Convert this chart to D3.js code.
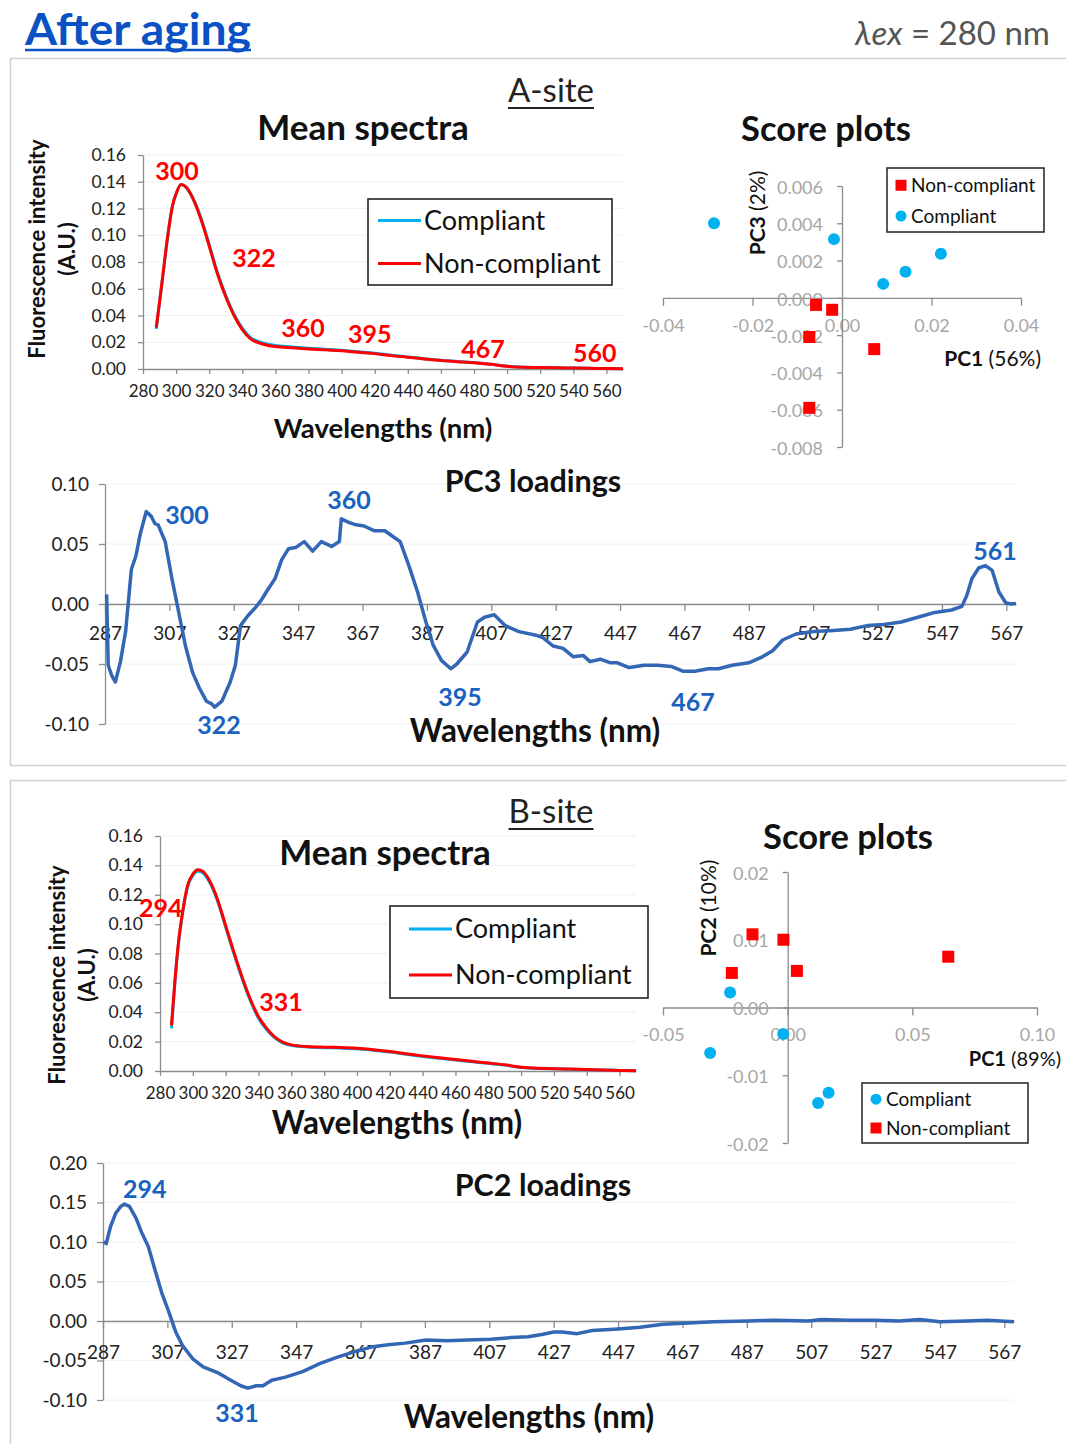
<!DOCTYPE html>
<html><head><meta charset="utf-8">
<script src="https://cdn.jsdelivr.net/npm/d3@7"></script>
<style>body{margin:0;background:#fff} text{font-family:Lato,'Open Sans',sans-serif}</style>
</head><body><svg id="c" width="1066" height="1444"></svg>
<script>
// ---------------- DATA ----------------
const meanTicks = [280,300,320,340,360,380,400,420,440,460,480,500,520,540,560];
const meanYTicks = [0,0.02,0.04,0.06,0.08,0.10,0.12,0.14,0.16];
const loadTicks = [287,307,327,347,367,387,407,427,447,467,487,507,527,547,567];

// A-site mean spectra
const aWl = [288,290,292,295,298,300,303,306,310,315,320,325,330,335,340,345,350,355,360,370,380,390,400,410,420,430,440,450,460,470,480,490,500,510,520,530,540,550,560,570];
const aNonCompliant = [0.031,0.050,0.070,0.100,0.123,0.131,0.138,0.136,0.128,0.112,0.092,0.071,0.054,0.040,0.0295,0.0225,0.0195,0.0178,0.0168,0.0158,0.0150,0.0143,0.0136,0.0125,0.0115,0.0100,0.0088,0.0075,0.0063,0.0055,0.0047,0.0035,0.0020,0.0013,0.0011,0.0009,0.0007,0.0005,0.0003,0.0002];
const aCompliant = [0.030,0.050,0.070,0.100,0.123,0.131,0.138,0.136,0.128,0.113,0.093,0.072,0.055,0.041,0.0305,0.0235,0.0205,0.0188,0.0176,0.0165,0.0156,0.0148,0.0140,0.0129,0.0118,0.0103,0.0090,0.0077,0.0065,0.0056,0.0048,0.0036,0.0021,0.0014,0.0011,0.0009,0.0007,0.0005,0.0003,0.0002];
const aMeanLabels = ["300","322","360","395","467","560"];
const aMeanLabelX = [300.5,347,376.7,417,485.4,553];
const aMeanLabelY = [0.1413,0.0763,0.0239,0.0194,0.0082,0.0052];

// A-site score plot (PC1 vs PC3)
const aScoreXTicks = [-0.04,-0.02,0,0.02,0.04];
const aScoreYTicks = [-0.008,-0.006,-0.004,-0.002,0,0.002,0.004,0.006];
const aCompPC1 = [-0.0286,-0.0018,0.0092,0.0142,0.0221];
const aCompPC3 = [0.0040,0.00315,0.00075,0.0014,0.00236];
const aNonPC1 = [-0.0058,-0.0022,-0.0073,0.0072,-0.0073];
const aNonPC3 = [-0.00038,-0.00064,-0.0021,-0.00275,-0.0059];

// A-site PC3 loadings
const pc3Wl = [287.5,288,289,290.2,291.8,293.4,295.2,296.6,298,299.8,301.4,302.5,303.5,305.7,307.8,309.9,312,314.2,316.3,318.5,320,321.1,323.3,325.9,327.5,329.1,331.3,333.4,335.5,337.1,339.8,341.9,344,346.2,348.9,351.5,354.2,357.4,359.8,360.4,362.7,365,367.5,370.7,373.9,377.1,378.7,381.4,384.1,386.7,388.9,391.5,394.4,396.3,399.5,402.7,404.9,407.9,411.3,415.6,420.9,423,426.2,429.3,432.5,435.6,437.7,440.9,444,446.2,449.8,454.5,458.7,462.9,466.5,470.2,474.4,477.6,481.8,487,491.2,494.4,497.5,501.7,507,513.3,518.5,523.8,529,534.3,539.5,544.8,550,553.2,554.7,556.3,558.4,560.5,562.6,564.7,566.8,568.4,570];
const pc3Val = [0.008,-0.051,-0.059,-0.065,-0.048,-0.023,0.029,0.040,0.059,0.077,0.073,0.067,0.066,0.052,0.021,-0.007,-0.035,-0.057,-0.070,-0.081,-0.083,-0.086,-0.081,-0.065,-0.051,-0.018,-0.010,-0.004,0.003,0.010,0.021,0.037,0.046,0.047,0.052,0.044,0.052,0.048,0.052,0.071,0.068,0.066,0.065,0.061,0.061,0.055,0.052,0.032,0.010,-0.015,-0.034,-0.047,-0.054,-0.050,-0.040,-0.015,-0.011,-0.009,-0.018,-0.023,-0.026,-0.028,-0.035,-0.037,-0.044,-0.043,-0.048,-0.046,-0.049,-0.049,-0.053,-0.051,-0.051,-0.052,-0.056,-0.056,-0.054,-0.054,-0.051,-0.049,-0.044,-0.039,-0.030,-0.025,-0.023,-0.022,-0.021,-0.018,-0.017,-0.015,-0.011,-0.007,-0.005,-0.002,0.007,0.021,0.030,0.032,0.028,0.010,0.001,0.000,0.0005];
const pc3YTicks = [-0.10,-0.05,0,0.05,0.10];
const pc3Labels = ["300","360","561","322","395","467"];
const pc3LabelX = [312.5,362.8,563.5,322.4,397.3,469.7];
const pc3LabelY = [0.0667,0.0792,0.0367,-0.1083,-0.0850,-0.0892];

// B-site mean spectra
const bWl = [287,289,291,294,297,300,303,306,310,315,320,325,330,335,340,345,350,355,360,370,380,390,400,410,420,430,440,450,460,470,480,490,500,510,520,530,540,550,560,570];
const bNonCompliant = [0.031,0.060,0.085,0.110,0.127,0.134,0.137,0.136,0.130,0.117,0.099,0.081,0.064,0.049,0.037,0.029,0.023,0.0195,0.0178,0.0166,0.0162,0.0160,0.0155,0.0145,0.0133,0.0118,0.0103,0.0090,0.0078,0.0066,0.0054,0.0042,0.0025,0.0018,0.0016,0.0013,0.0010,0.0007,0.0004,0.0002];
const bCompliant = [0.029,0.059,0.084,0.109,0.126,0.133,0.136,0.135,0.129,0.116,0.098,0.080,0.063,0.048,0.036,0.028,0.0225,0.019,0.0175,0.0163,0.0159,0.0156,0.0151,0.0141,0.0129,0.0114,0.0099,0.0087,0.0075,0.0063,0.0052,0.0040,0.0024,0.0017,0.0015,0.0012,0.0009,0.0006,0.0004,0.0002];
const bMeanLabels = ["294","331"];
const bMeanLabelX = [280.5,353.7];
const bMeanLabelY = [0.1049,0.0409];

// B-site score plot (PC1 vs PC2)
const bScoreXTicks = [-0.05,0,0.05,0.10];
const bScoreYTicks = [-0.02,-0.01,0,0.01,0.02];
const bCompPC1 = [-0.0231,-0.0311,-0.0018,0.0122,0.0164];
const bCompPC2 = [0.0022,-0.0067,-0.0039,-0.0141,-0.0126];
const bNonPC1 = [-0.0141,-0.0017,-0.0224,0.0037,0.0644];
const bNonPC2 = [0.0108,0.0100,0.0051,0.0054,0.0075];

// B-site PC2 loadings
const pc2Wl = [287.2,288,289.3,290.9,292.5,293.6,295.2,297.3,298.9,301.1,303.2,305.3,307.5,309.6,311.7,314.9,318.1,322.4,326.7,329.8,332,334.6,336.7,339.4,343.7,349,354.3,359.6,365,370.3,375.6,380.9,387.3,393.7,400.1,407.5,413.9,419.1,423.3,427,429.6,434.3,439,447,453.8,461,467.3,476.8,487.2,495.6,506.1,510.3,518.7,527,534.4,540.7,547,555.4,561.7,570];
const pc2Val = [0.100,0.098,0.119,0.136,0.145,0.148,0.145,0.130,0.113,0.094,0.064,0.035,0.011,-0.014,-0.031,-0.048,-0.058,-0.065,-0.075,-0.082,-0.085,-0.082,-0.082,-0.075,-0.071,-0.064,-0.054,-0.046,-0.039,-0.033,-0.030,-0.028,-0.024,-0.025,-0.024,-0.023,-0.021,-0.020,-0.017,-0.014,-0.014,-0.016,-0.012,-0.010,-0.008,-0.004,-0.003,-0.001,0.000,0.001,0.000,0.002,0.001,0.001,0.000,0.002,-0.001,0.000,0.001,-0.001];
const pc2YTicks = [-0.10,-0.05,0,0.05,0.10,0.15,0.20];
const pc2Labels = ["294","331"];
const pc2LabelX = [300.0,328.6];
const pc2LabelY = [0.1557,-0.1278];

// ---------------- DRAWING ----------------
const svg = d3.select('#c');
const BLUE_PT = '#00b0f0', RED = '#ff0000', LOAD = '#3366b5', LBL_BLUE = '#1a62c0', AX = '#8c8c8c';
const fmt = p => d => d3.format(p)(d).replace('\u2212', '-');

function text(x, y, s, o = {}) {
  const t = svg.append('text').attr('x', x).attr('y', y)
    .attr('font-size', o.size || 16).attr('font-weight', o.bold ? 700 : 400)
    .attr('fill', o.fill || '#111').attr('text-anchor', o.anchor || 'start');
  if (o.italic) t.attr('font-style', 'italic');
  if (o.rotate) t.attr('transform', `rotate(-90,${x},${y})`);
  t.text(s);
  return t;
}
function styleAxis(g, color, size) {
  g.select('.domain').attr('stroke', AX).attr('stroke-width', 1.3);
  g.selectAll('.tick line').attr('stroke', AX).attr('stroke-width', 1.3);
  g.selectAll('.tick text').attr('fill', color).attr('font-size', size)
    .attr('font-family', "Lato,'Open Sans',sans-serif");
}

// header
text(25, 45, 'After aging', {size: 44, bold: true, fill: '#0a52c4'})
  .attr('textLength', 226).attr('lengthAdjust', 'spacingAndGlyphs');
svg.append('line').attr('x1', 25).attr('x2', 251).attr('y1', 50).attr('y2', 50).attr('stroke', '#0a52c4').attr('stroke-width', 2.5);
const lam = svg.append('text').attr('x', 1050).attr('y', 45).attr('text-anchor', 'end').attr('font-size', 33).attr('fill', '#555');
lam.append('tspan').attr('font-style', 'italic').text('λex');
lam.append('tspan').text(' = 280 nm');

// panel frames
svg.append('rect').attr('x', 10.5).attr('y', 58.5).attr('width', 1070).attr('height', 707).attr('fill', 'none').attr('stroke', '#cfcfcf').attr('stroke-width', 1.5);
svg.append('rect').attr('x', 10.5).attr('y', 780.5).attr('width', 1070).attr('height', 700).attr('fill', 'none').attr('stroke', '#cfcfcf').attr('stroke-width', 1.5);

function siteTitle(cx, y, s) {
  const t = text(cx, y, s, {size: 33, anchor: 'middle', fill: '#222'});
  const w = t.node().getComputedTextLength();
  svg.append('line').attr('x1', cx - w / 2).attr('x2', cx + w / 2).attr('y1', y + 6).attr('y2', y + 6).attr('stroke', '#222').attr('stroke-width', 2);
}
siteTitle(551, 102, 'A-site');
siteTitle(551, 823, 'B-site');

// ---- mean spectra ----
function meanChart(cfg) {
  const x = d3.scaleLinear().domain([280, 570]).range([cfg.x0, cfg.x1]);
  const y = d3.scaleLinear().domain([0, 0.16]).range([cfg.y0, cfg.y1]);
  svg.append('g').selectAll('line').data(meanYTicks.slice(1)).join('line')
    .attr('x1', cfg.x0).attr('x2', cfg.x1).attr('y1', d => y(d)).attr('y2', d => y(d))
    .attr('stroke', '#f0f0f0').attr('stroke-width', 1);
  const gx = svg.append('g').attr('transform', `translate(0,${cfg.y0})`)
    .call(d3.axisBottom(x).tickValues(meanTicks).tickSize(5).tickPadding(11).tickSizeOuter(0).tickFormat(d3.format('d')));
  styleAxis(gx, '#222', 17);
  const gy = svg.append('g').attr('transform', `translate(${cfg.x0},0)`)
    .call(d3.axisLeft(y).tickValues(meanYTicks).tickSize(5).tickPadding(12).tickSizeOuter(0).tickFormat(fmt('.2f')));
  styleAxis(gy, '#222', 17.5);
  const line = d3.line().x(d => x(d[0])).y(d => y(d[1])).curve(d3.curveMonotoneX);
  svg.append('path').datum(cfg.wl.map((w, i) => [w, cfg.comp[i]])).attr('d', line)
    .attr('fill', 'none').attr('stroke', BLUE_PT).attr('stroke-width', 3);
  svg.append('path').datum(cfg.wl.map((w, i) => [w, cfg.non[i]])).attr('d', line)
    .attr('fill', 'none').attr('stroke', RED).attr('stroke-width', 3);
  cfg.labels.forEach((s, i) => text(x(cfg.lx[i]), y(cfg.ly[i]), s, {size: 25, bold: true, fill: RED, anchor: 'middle'}));
  // legend
  const L = cfg.legend;
  svg.append('rect').attr('x', L.x).attr('y', L.y).attr('width', L.w).attr('height', L.h).attr('fill', '#fff').attr('stroke', '#222').attr('stroke-width', 1.6);
  [['Compliant', BLUE_PT], ['Non-compliant', RED]].forEach((e, i) => {
    const yy = L.y + L.h * (i === 0 ? 0.25 : 0.75);
    svg.append('line').attr('x1', L.x + L.pad).attr('x2', L.x + L.pad + 43).attr('y1', yy).attr('y2', yy).attr('stroke', e[1]).attr('stroke-width', 3);
    text(L.x + L.pad + 46, yy + 9, e[0], {size: L.fs, fill: '#111'});
  });
  // titles
  text(cfg.title[0], cfg.title[1], 'Mean spectra', {size: 35, bold: true, anchor: 'middle'});
  text(cfg.xt[0], cfg.xt[1], 'Wavelengths (nm)', {size: cfg.xt[2], bold: true, anchor: 'middle'});
  text(cfg.yt[0], cfg.yt[2], 'Fluorescence intensity', {size: 22, bold: true, anchor: 'middle', rotate: true});
  text(cfg.yt[1], cfg.yt[2], '(A.U.)', {size: 22, bold: true, anchor: 'middle', rotate: true});
}
meanChart({x0: 143, x1: 623, y0: 369, y1: 155, wl: aWl, comp: aCompliant, non: aNonCompliant,
  labels: aMeanLabels, lx: aMeanLabelX, ly: aMeanLabelY,
  legend: {x: 368, y: 199, w: 244, h: 86, pad: 10, fs: 27},
  title: [363, 140], xt: [383, 438, 27.5], yt: [45, 75, 249]});
meanChart({x0: 160, x1: 636, y0: 1071, y1: 836, wl: bWl, comp: bCompliant, non: bNonCompliant,
  labels: bMeanLabels, lx: bMeanLabelX, ly: bMeanLabelY,
  legend: {x: 390, y: 906, w: 258, h: 92, pad: 19, fs: 27},
  title: [385, 865], xt: [397, 1134, 31.5], yt: [65, 95, 975]});

// ---- score plots ----
function scorePlot(cfg) {
  const x = d3.scaleLinear().domain(cfg.xd).range([cfg.x0, cfg.x1]);
  const y = d3.scaleLinear().domain(cfg.yd).range([cfg.y0, cfg.y1]);
  const gx = svg.append('g').attr('transform', `translate(0,${y(0)})`)
    .call(d3.axisBottom(x).tickValues(cfg.xt).tickSize(8).tickPadding(13).tickSizeOuter(0).tickFormat(cfg.xf));
  styleAxis(gx, '#a6a6a6', 18);
  const gy = svg.append('g').attr('transform', `translate(${x(0)},0)`)
    .call(d3.axisLeft(y).tickValues(cfg.yt).tickSize(5).tickPadding(14).tickSizeOuter(0).tickFormat(cfg.yf));
  styleAxis(gy, '#a6a6a6', 18);
  gy.selectAll('.tick text').attr('dy', '0.4em');
  svg.append('g').selectAll('circle').data(cfg.cx.map((v, i) => [v, cfg.cy[i]])).join('circle')
    .attr('cx', d => x(d[0])).attr('cy', d => y(d[1])).attr('r', 6).attr('fill', BLUE_PT);
  svg.append('g').selectAll('rect').data(cfg.nx.map((v, i) => [v, cfg.ny[i]])).join('rect')
    .attr('x', d => x(d[0]) - 6).attr('y', d => y(d[1]) - 6).attr('width', 12).attr('height', 12).attr('fill', RED);
  const L = cfg.legend;
  svg.append('rect').attr('x', L.x).attr('y', L.y).attr('width', L.w).attr('height', L.h).attr('fill', '#fff').attr('stroke', '#222').attr('stroke-width', 1.5);
  L.order.forEach((k, i) => {
    const yy = L.y + L.h * (i === 0 ? 0.27 : 0.75);
    const cxp = L.x + 14;
    if (k === 'Compliant') svg.append('circle').attr('cx', cxp).attr('cy', yy).attr('r', 5.5).attr('fill', BLUE_PT);
    else svg.append('rect').attr('x', cxp - 5.5).attr('y', yy - 5.5).attr('width', 11).attr('height', 11).attr('fill', RED);
    text(cxp + 10, yy + 6.5, k, {size: 19, fill: '#111'});
  });
  text(cfg.title[0], cfg.title[1], 'Score plots', {size: 34.5, bold: true, anchor: 'middle'});
  const xl = svg.append('text').attr('x', cfg.xl[0]).attr('y', cfg.xl[1]).attr('text-anchor', 'end').attr('font-size', cfg.xl[3]).attr('fill', '#111');
  xl.append('tspan').attr('font-weight', 700).text('PC1');
  xl.append('tspan').text(' ' + cfg.xl[2]);
  const yl = svg.append('text').attr('x', cfg.yl[0]).attr('y', cfg.yl[1]).attr('text-anchor', 'middle').attr('font-size', 21).attr('fill', '#111')
    .attr('transform', `rotate(-90,${cfg.yl[0]},${cfg.yl[1]})`);
  yl.append('tspan').attr('font-weight', 700).text(cfg.yl[2]);
  yl.append('tspan').text(' ' + cfg.yl[3]);
}
scorePlot({xd: [-0.04, 0.04], x0: 663, x1: 1021, yd: [-0.008, 0.006], y0: 447, y1: 186,
  xt: aScoreXTicks, yt: aScoreYTicks, xf: fmt('.2f'), yf: fmt('.3f'),
  cx: aCompPC1, cy: aCompPC3, nx: aNonPC1, ny: aNonPC3,
  legend: {x: 887, y: 168, w: 157, h: 64, order: ['Non-compliant', 'Compliant']},
  title: [826, 141], xl: [1041, 366, '(56%)', 21], yl: [765, 213, 'PC3', '(2%)']});
scorePlot({xd: [-0.05, 0.10], x0: 663, x1: 1037, yd: [-0.02, 0.02], y0: 1143, y1: 872,
  xt: bScoreXTicks, yt: bScoreYTicks, xf: fmt('.2f'), yf: fmt('.2f'),
  cx: bCompPC1, cy: bCompPC2, nx: bNonPC1, ny: bNonPC2,
  legend: {x: 862, y: 1083, w: 166, h: 60, order: ['Compliant', 'Non-compliant']},
  title: [848, 849], xl: [1061, 1066, '(89%)', 20], yl: [716, 908, 'PC2', '(10%)']});

// ---- loadings ----
function loadChart(cfg) {
  const x = d3.scaleLinear().domain([287, 570]).range([cfg.x0, cfg.x1]);
  const y = d3.scaleLinear().domain(cfg.yd).range([cfg.y0, cfg.y1]);
  svg.append('g').selectAll('line').data(cfg.yt).join('line')
    .attr('x1', cfg.x0).attr('x2', cfg.x1).attr('y1', d => y(d)).attr('y2', d => y(d))
    .attr('stroke', '#f2f2f2').attr('stroke-width', 1);
  const gy = svg.append('g').attr('transform', `translate(${cfg.x0},0)`)
    .call(d3.axisLeft(y).tickValues(cfg.yt).tickSize(6).tickPadding(10).tickSizeOuter(0).tickFormat(fmt('.2f')));
  styleAxis(gy, '#222', 19);
  const gx = svg.append('g').attr('transform', `translate(0,${y(0)})`)
    .call(d3.axisBottom(x).tickValues(loadTicks).tickSize(7).tickPadding(cfg.pad).tickSizeOuter(0).tickFormat(d3.format('d')));
  styleAxis(gx, '#222', 19);
  const line = d3.line().x(d => x(d[0])).y(d => y(d[1])).curve(d3.curveLinear);
  svg.append('path').datum(cfg.wl.map((w, i) => [w, cfg.v[i]])).attr('d', line)
    .attr('fill', 'none').attr('stroke', LOAD).attr('stroke-width', 3.5).attr('stroke-linejoin', 'round');
  cfg.labels.forEach((s, i) => text(x(cfg.lx[i]), y(cfg.ly[i]), s, {size: 25, bold: true, fill: LBL_BLUE, anchor: 'middle'}));
  text(cfg.title[0], cfg.title[1], cfg.title[2], {size: 30.5, bold: true, anchor: 'middle'});
  text(cfg.xt[0], cfg.xt[1], 'Wavelengths (nm)', {size: 31.5, bold: true, anchor: 'middle'});
}
loadChart({x0: 105, x1: 1016, yd: [-0.10, 0.10], y0: 724, y1: 484, yt: pc3YTicks, pad: 16,
  wl: pc3Wl, v: pc3Val, labels: pc3Labels, lx: pc3LabelX, ly: pc3LabelY,
  title: [533, 492, 'PC3 loadings'], xt: [535, 742]});
loadChart({x0: 103, x1: 1014, yd: [-0.10, 0.20], y0: 1400, y1: 1163, yt: pc2YTicks, pad: 18,
  wl: pc2Wl, v: pc2Val, labels: pc2Labels, lx: pc2LabelX, ly: pc2LabelY,
  title: [543, 1196, 'PC2 loadings'], xt: [529, 1428]});
</script></body></html>
